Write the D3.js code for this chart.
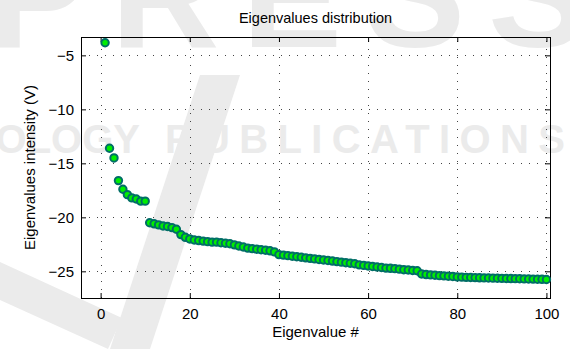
<!DOCTYPE html>
<html>
<head>
<meta charset="utf-8">
<script src="https://cdn.jsdelivr.net/npm/d3@7"></script>
<style>
  html, body { margin: 0; padding: 0; background: #fff; }
  svg { display: block; font-family: "Liberation Sans", Arial, Helvetica, sans-serif; }
</style>
</head>
<body>
<svg id="chart" width="570" height="349"></svg>
<script>
// Eigenvalue index (1..100) and measured intensity in volts
const eigenIndex = d3.range(1, 101);
const intensity = [
  -3.83, -13.6, -14.5, -16.6, -17.4, -17.9, -18.2, -18.3, -18.5, -18.5,
  -20.5, -20.6, -20.7, -20.8, -20.85, -20.95, -21.1, -21.6, -21.85, -22.0,
  -22.1, -22.15, -22.2, -22.25, -22.3, -22.3, -22.35, -22.4, -22.45, -22.55,
  -22.65, -22.75, -22.85, -22.9, -22.95, -23.0, -23.05, -23.1, -23.2, -23.45,
  -23.5, -23.55, -23.6, -23.65, -23.7, -23.75, -23.8, -23.85, -23.9, -23.95,
  -24.0, -24.05, -24.1, -24.15, -24.2, -24.25, -24.3, -24.4, -24.45, -24.5,
  -24.55, -24.6, -24.65, -24.7, -24.72, -24.75, -24.8, -24.85, -24.88, -24.92,
  -24.95, -25.25, -25.3, -25.33, -25.36, -25.4, -25.42, -25.45, -25.48, -25.52,
  -25.54, -25.56, -25.57, -25.58, -25.6, -25.61, -25.62, -25.63, -25.64, -25.65,
  -25.66, -25.67, -25.68, -25.69, -25.7, -25.71, -25.72, -25.73, -25.74, -25.76
];
const xTicks = [0, 20, 40, 60, 80, 100];
const yTicks = [-25, -20, -15, -10, -5];

const titleText = "Eigenvalues distribution";
const xLabelText = "Eigenvalue #";
const yLabelText = "Eigenvalues intensity (V)";

const svg = d3.select("#chart");
const plotL = 81, plotR = 550, plotT = 37, plotB = 298;

const x = d3.scaleLinear().domain([-4.4, 100.8]).range([plotL, plotR]);
const y = d3.scaleLinear().domain([-27.47, -3.3]).range([plotB, plotT]);

// Faint publisher watermark behind the figure
const wm = svg.append("g").attr("fill", "#ebebeb");
wm.append("text").attr("x", -12).attr("y", 47)
  .attr("font-size", 150).attr("font-weight", "bold")
  .attr("textLength", 600).attr("lengthAdjust", "spacing")
  .text("PRESS");
wm.append("text").attr("x", 140).attr("y", 153).attr("text-anchor", "end")
  .attr("font-size", 40).attr("font-weight", "bold")
  .text("TECHNOLOGY");
wm.append("text").attr("x", 165).attr("y", 153)
  .attr("font-size", 40).attr("font-weight", "bold")
  .attr("textLength", 400).attr("lengthAdjust", "spacing")
  .text("PUBLICATIONS");
wm.append("path")
  .attr("d", "M200,75 L240,75 L150,349 L110,349 Z");
wm.append("path")
  .attr("d", "M0,262 L122,318 L108,349 L0,300 Z");

// Dotted grid
const grid = svg.append("g").attr("stroke", "#444").attr("stroke-width", 1)
  .attr("stroke-dasharray", "1,7").attr("shape-rendering", "crispEdges");
grid.selectAll(".gx").data(xTicks).join("line")
  .attr("x1", d => Math.round(x(d)) + 0.5).attr("x2", d => Math.round(x(d)) + 0.5)
  .attr("y1", plotB).attr("y2", plotT);
grid.selectAll(".gy").data(yTicks).join("line")
  .attr("y1", d => Math.round(y(d)) + 0.5).attr("y2", d => Math.round(y(d)) + 0.5)
  .attr("x1", plotL).attr("x2", plotR);

// Axes with inward ticks on all four sides
const tickLen = 5;
const axisFont = 15;
const xAxisB = d3.axisBottom(x).tickValues(xTicks).tickSizeInner(-tickLen).tickSizeOuter(0).tickPadding(10);
const xAxisT = d3.axisTop(x).tickValues(xTicks).tickSizeInner(-tickLen).tickSizeOuter(0).tickFormat("");
const yAxisL = d3.axisLeft(y).tickValues(yTicks).tickSizeInner(-tickLen).tickSizeOuter(0).tickPadding(7);
const yAxisR = d3.axisRight(y).tickValues(yTicks).tickSizeInner(-tickLen).tickSizeOuter(0).tickFormat("");

function styleAxis(g) {
  g.select(".domain").remove();
  g.selectAll("line").attr("stroke", "#000");
  g.selectAll("text").attr("fill", "#000").attr("font-size", axisFont)
    .attr("font-family", "'Liberation Sans', Arial, sans-serif");
}
svg.append("g").attr("transform", `translate(0,${plotB})`).call(xAxisB).call(styleAxis);
svg.append("g").attr("transform", `translate(0,${plotT})`).call(xAxisT).call(styleAxis);
svg.append("g").attr("transform", `translate(${plotL},0)`).call(yAxisL).call(styleAxis);
svg.append("g").attr("transform", `translate(${plotR},0)`).call(yAxisR).call(styleAxis);

// Plot box
svg.append("rect").attr("x", plotL + 0.5).attr("y", plotT + 0.5)
  .attr("width", plotR - plotL).attr("height", plotB - plotT)
  .attr("fill", "none").attr("stroke", "#000").attr("stroke-width", 1)
  .attr("shape-rendering", "crispEdges");

// Markers: bright green face, dark teal edge
const pts = eigenIndex.map((k, i) => ({ k, v: intensity[i] }));
svg.append("g").selectAll("circle").data(pts).join("circle")
  .attr("cx", d => x(d.k)).attr("cy", d => y(d.v)).attr("r", 3.7)
  .attr("fill", "#00ee00").attr("stroke", "#006e66").attr("stroke-width", 2);

// Titles
svg.append("text").attr("x", (plotL + plotR) / 2).attr("y", 23)
  .attr("text-anchor", "middle").attr("font-size", 14.5).text(titleText);
svg.append("text").attr("x", (plotL + plotR) / 2).attr("y", 337)
  .attr("text-anchor", "middle").attr("font-size", 15).text(xLabelText);
svg.append("text")
  .attr("transform", `translate(35,${(plotT + plotB) / 2}) rotate(-90)`)
  .attr("text-anchor", "middle").attr("font-size", 15).text(yLabelText);
</script>
</body>
</html>
